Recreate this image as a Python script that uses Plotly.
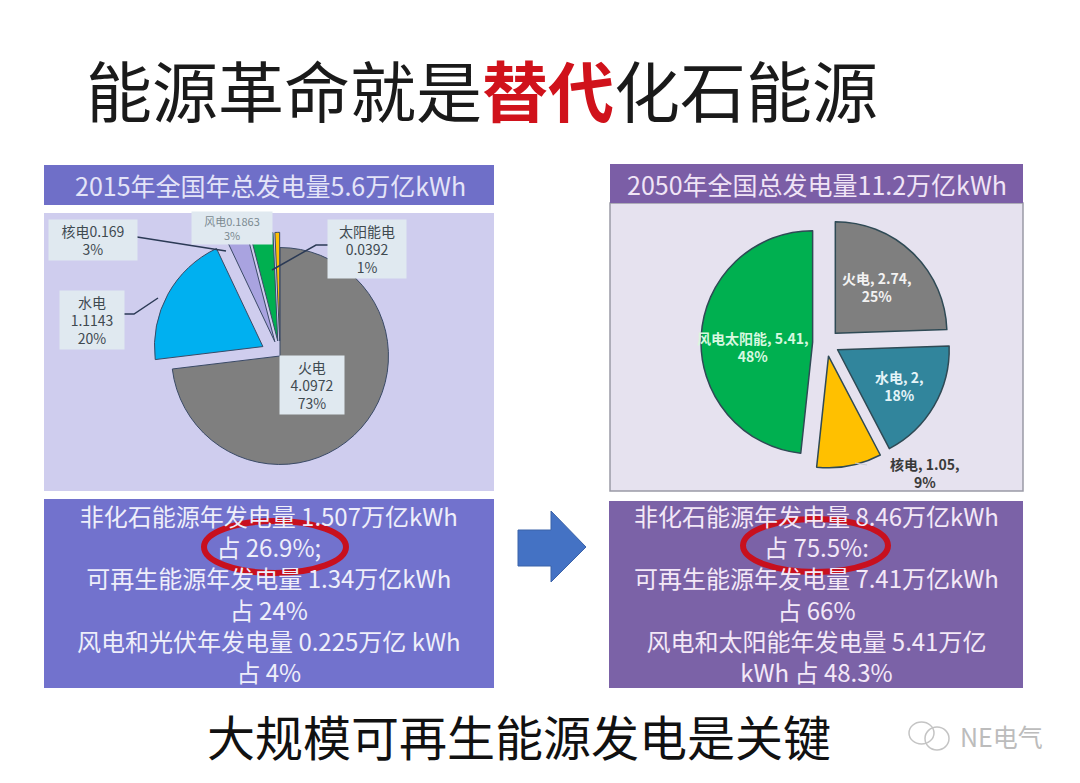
import plotly.graph_objects as go

W, H = 1080, 783
CJK = "Noto Sans CJK SC"

# pie data
names_2015 = ["火电", "水电", "核电", "风电", "太阳能电"]
values_2015 = [4.0972, 1.1143, 0.169, 0.1863, 0.0392]
colors_2015 = ["#7f7f7f", "#00b0f0", "#a9a3e0", "#00b050", "#ffc000"]
pull_2015 = [0, 0.18, 0.14, 0.14, 0.14]

names_2050 = ["火电", "水电", "核电", "风电太阳能"]
values_2050 = [2.74, 2, 1.05, 5.41]
colors_2050 = ["#7f7f7f", "#31859c", "#ffc000", "#00b050"]
pull_2050 = [0.12, 0.12, 0.12, 0.12]

# text
title_left = "能源革命就是"
title_red = "替代"
title_right = "化石能源"
header_2015 = "2015年全国年总发电量5.6万亿kWh"
header_2050 = "2050年全国总发电量11.2万亿kWh"
lines_2015 = ["非化石能源年发电量 1.507万亿kWh", "占 26.9%;", "可再生能源年发电量 1.34万亿kWh",
              "占 24%", "风电和光伏年发电量 0.225万亿 kWh", "占 4%"]
lines_2050 = ["非化石能源年发电量 8.46万亿kWh", "占 75.5%:", "可再生能源年发电量 7.41万亿kWh",
              "占 66%", "风电和太阳能年发电量 5.41万亿", "kWh 占 48.3%"]
footer = "大规模可再生能源发电是关键"
watermark = "NE电气"


def px(x):
    return x / W


def py(y):
    return 1 - y / H


def rect(x0, y0, x1, y1, color, line="rgba(0,0,0,0)"):
    return dict(type="rect", xref="paper", yref="paper", x0=px(x0), x1=px(x1), y0=py(y0), y1=py(y1),
                fillcolor=color, line=dict(color=line, width=1.5), layer="below")


def ring(x0, y0, x1, y1, color, width):
    return dict(type="circle", xref="paper", yref="paper", x0=px(x0), x1=px(x1), y0=py(y0), y1=py(y1),
                line=dict(color=color, width=width), layer="above")


def leader(points, color="#2b3a55", width=1.5):
    path = "M" + " L".join(f"{px(x)},{py(y)}" for x, y in points)
    return dict(type="path", xref="paper", yref="paper", path=path, line=dict(color=color, width=width), layer="above")


def label(x, y, text, size, color, **kw):
    return dict(xref="paper", yref="paper", x=px(x), y=py(y), text=text, showarrow=False, xanchor="center",
                yanchor="middle", font=dict(family=CJK, size=size, color=color), **kw)


fig = go.Figure()
fig.add_trace(go.Pie(labels=names_2015, values=values_2015, sort=False, direction="clockwise", rotation=0,
                     pull=pull_2015, textinfo="none", hoverinfo="skip", showlegend=False,
                     marker=dict(colors=colors_2015, line=dict(color="#3a4a66", width=1)),
                     domain=dict(x=[px(152), px(408)], y=[py(484), py(228)])))
fig.add_trace(go.Pie(labels=names_2050, values=values_2050, sort=False, direction="clockwise", rotation=0,
                     pull=pull_2050, textinfo="none", hoverinfo="skip", showlegend=False,
                     marker=dict(colors=colors_2050, line=dict(color="#2f4a55", width=1.5)),
                     domain=dict(x=[px(701), px(951)], y=[py(468), py(218)])))

shapes = [
    rect(44, 165, 494, 205, "#6f6fc8"),
    rect(44, 213, 494, 491, "#cfcdee"),
    rect(44, 499, 494, 688, "#7272cd"),
    rect(610, 203, 1023, 491, "#e6e2ef", "#9a9aa6"),
    rect(610, 164, 1023, 203, "#7b5ea6"),
    rect(609, 501, 1023, 688, "#7b62a7"),
    # arrow between the panels
    dict(type="path", xref="paper", yref="paper", layer="below", fillcolor="#4472c4", line=dict(color="#3a62a8", width=1),
         path="M" + " L".join(f"{px(x)},{py(y)}" for x, y in [(518, 530), (551, 530), (551, 511), (586, 547),
                                                               (551, 582), (551, 566), (518, 566)]) + " Z"),
    ring(204, 521, 346, 573, "#c8101e", 6),
    ring(743, 519, 888, 572, "#c8101e", 6),
    leader([(137, 237), (226, 251)]),
    leader([(123, 314), (134, 314), (158, 298)]),
    leader([(328, 245), (316, 245), (272, 270)]),
    leader([(867, 465), (855, 463)], "#c8cbd8", 1),
    # wechat mark
    ring(909, 722, 934, 744, "#c4c4c4", 1.5),
    ring(925, 727, 949, 750, "#c4c4c4", 1.5),
]

annotations = [
    dict(xref="paper", yref="paper", x=px(482), y=py(88),
         text=f'{title_left}<b><span style="color:#d0121b">{title_red}</span></b>{title_right}',
         showarrow=False, xanchor="center", yanchor="middle", font=dict(family=CJK, size=66, color="#1a1a1a")),
    label(270, 185, header_2015, 25, "#e4e4f8"),
    label(817, 184, header_2050, 25, "#f0e4f6"),
    label(519, 735, footer, 48, "#111111"),
    label(1001, 736, watermark, 25, "#bcbcbc"),
    # 2015 pie labels
    label(93, 240, "核电0.169<br>3%", 14, "#3f4a50", bgcolor="#e0e9f0", width=86, height=38),
    label(232, 228, "风电0.1863<br>3%", 11, "#7b8a90", bgcolor="#e0e9f0", width=78, height=30),
    label(367, 249, "太阳能电<br>0.0392<br>1%", 14, "#3f4a50", bgcolor="#e0e9f0", width=76, height=56),
    label(92, 320, "水电<br>1.1143<br>20%", 14, "#3f4a50", bgcolor="#e0e9f0", width=62, height=56),
    label(312, 385, "火电<br>4.0972<br>73%", 14, "#3f4a50", bgcolor="#e0e9f0", width=62, height=56),
    # 2050 pie labels
    label(877, 287, "<b>火电, 2.74,<br>25%</b>", 14, "#f2f2f2"),
    label(899, 386, "<b>水电, 2,<br>18%</b>", 14, "#e4f4f8"),
    label(753, 347, "<b>风电太阳能, 5.41,<br>48%</b>", 14, "#d8f8e0"),
    label(925, 473, "<b>核电, 1.05,<br>9%</b>", 14, "#3a3a3a"),
    # summary blocks
    label(269, 593, "<br>".join(lines_2015), 24, "#eeeefa"),
    label(816, 593, "<br>".join(lines_2050), 24, "#f3e8f7"),
]

fig.update_layout(width=W, height=H, margin=dict(l=0, r=0, t=0, b=0), paper_bgcolor="#ffffff",
                  shapes=shapes, annotations=annotations)
# page body has a default 8px margin, drop it so the figure sits at 0,0
fig.write_html("out.html", post_script="document.body.style.margin='0';", config=dict(displayModeBar=False))
